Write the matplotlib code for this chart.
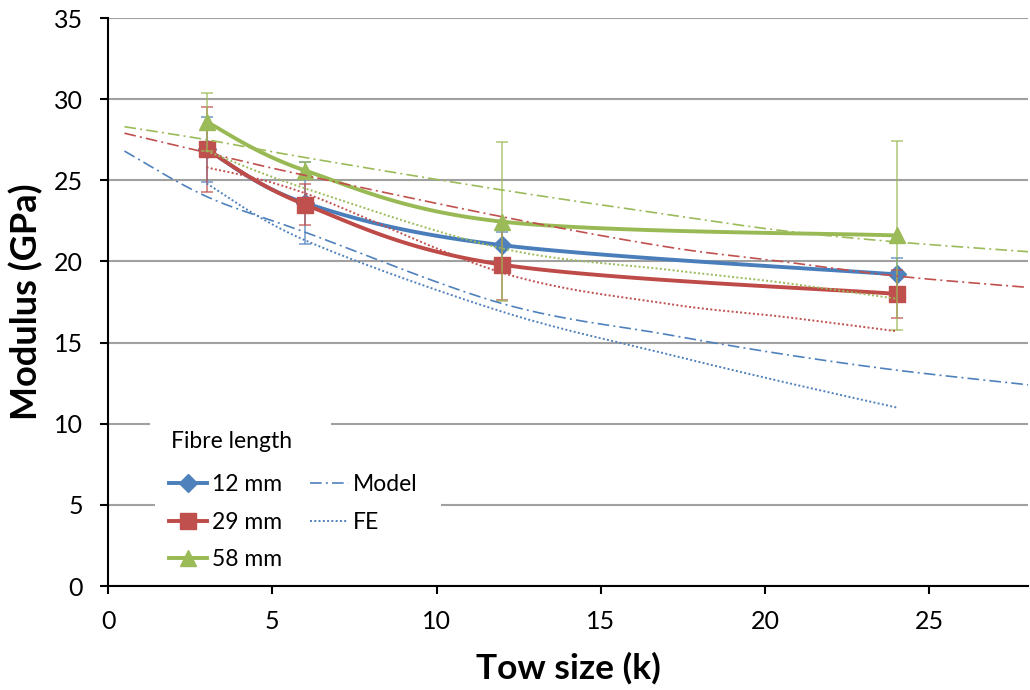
import numpy as np
import matplotlib
matplotlib.use('Agg')
import matplotlib.pyplot as plt
from matplotlib.patches import Rectangle
from matplotlib.lines import Line2D

# ---------------- data ----------------
tow_sizes = [3, 6, 12, 24]
mod_12mm = [26.9, 23.6, 21.0, 19.2]
err_12mm = [2.0, 2.5, 0.8, 1.0]
mod_29mm = [26.9, 23.5, 19.8, 18.0]
err_29mm = [2.6, 1.25, 2.2, 1.5]
mod_58mm = [28.6, 25.6, 22.45, 21.6]
err_58mm = [1.8, 0.5, 4.9, 5.85]

model_x = [0.5, 3, 6, 12, 17, 20.5, 24, 28]
model_12mm = [26.8, 24.0, 21.8, 17.4, 15.5, 14.3, 13.3, 12.4]
model_29mm = [27.9, 26.7, 25.3, 22.75, 20.9, 20.0, 19.1, 18.4]
model_58mm = [28.3, 27.5, 26.4, 24.4, 22.9, 21.9, 21.2, 20.6]

fe_x = [3, 6, 12, 17, 20.5, 24]
fe_12mm = [24.8, 21.3, 16.9, 14.3, 12.6, 11.0]
fe_29mm = [25.8, 24.2, 19.3, 17.4, 16.6, 15.7]
fe_58mm = [26.8, 24.5, 20.8, 19.5, 18.7, 17.7]

series_labels = ['12 mm', '29 mm', '58 mm']
legend_title = 'Fibre length'
x_ticks = [0, 5, 10, 15, 20, 25]
y_ticks = [0, 5, 10, 15, 20, 25, 30, 35]

# ---------------- style ----------------
plt.rcParams['font.family'] = ['Lato', 'DejaVu Sans']
line_cols = ['#4A7EBB', '#BE4B48', '#98B954']
fill_cols = ['#4F81BD', '#C0504D', '#9BBB59']
markers = ['D', 's', '^']
msizes = [9, 11, 12]


def smooth(x, y, n=40):
    P = np.column_stack([x, y]).astype(float)
    ext = np.vstack([P[0], P, P[-1]])
    out = []
    t = np.linspace(0, 1, n)[:, None]
    for i in range(len(P) - 1):
        p0, p1, p2, p3 = ext[i], ext[i + 1], ext[i + 2], ext[i + 3]
        c1 = p1 + (p2 - p0) / 6.0
        c2 = p2 - (p3 - p1) / 6.0
        seg = (1 - t) ** 3 * p1 + 3 * (1 - t) ** 2 * t * c1 + 3 * (1 - t) * t ** 2 * c2 + t ** 3 * p2
        out.append(seg if i == 0 else seg[1:])
    S = np.vstack(out)
    return S[:, 0], S[:, 1]


fig = plt.figure(figsize=(10.3, 6.9), dpi=100)
ax = fig.add_axes([108 / 1030, 1 - 586 / 690, 920 / 1030, 568 / 690])

ax.set_xlim(0, 28)
ax.set_ylim(0, 35)
ax.set_xticks(x_ticks)
ax.set_yticks(y_ticks)
ax.yaxis.grid(True, color='#A0A0A0', lw=1.5)
ax.set_axisbelow(True)
for s in ['top', 'right']:
    ax.spines[s].set_visible(False)
for s in ['left', 'bottom']:
    ax.spines[s].set_linewidth(1.5)
    ax.spines[s].set_color('black')
ax.tick_params(axis='both', direction='out', length=6, width=1.5, labelsize=18)
ax.tick_params(axis='y', pad=12)
ax.tick_params(axis='x', pad=11)

# experimental series
data = [(mod_12mm, err_12mm), (mod_29mm, err_29mm), (mod_58mm, err_58mm)]
for i, (ys, es) in enumerate(data):
    z = 3 + i
    ax.errorbar(tow_sizes, ys, yerr=es, fmt='none', ecolor=fill_cols[i], elinewidth=1.2,
                capsize=4, capthick=1.2, alpha=0.75, zorder=z)
    sx, sy = smooth(tow_sizes, ys)
    ax.plot(sx, sy, color=line_cols[i], lw=2.8, zorder=z, solid_capstyle='round')
    ax.plot(tow_sizes, ys, ls='none', marker=markers[i], ms=msizes[i], color=fill_cols[i],
            markeredgecolor=fill_cols[i], zorder=z + 0.1)

# model & FE
for i, ys in enumerate([model_12mm, model_29mm, model_58mm]):
    sx, sy = smooth(model_x, ys)
    ax.plot(sx, sy, color=fill_cols[i], lw=1.2, dashes=(7, 2.5, 1.2, 2.5), zorder=7)
for i, ys in enumerate([fe_12mm, fe_29mm, fe_58mm]):
    sx, sy = smooth(fe_x, ys)
    ax.plot(sx, sy, color=fill_cols[i], lw=1.4, dashes=(1.0, 1.2), zorder=7)

ax.set_xlabel('Tow size (k)', fontsize=25.5, fontweight='bold', labelpad=14)
ax.set_ylabel('Modulus (GPa)', fontsize=26, fontweight='bold', labelpad=8)

# legend
handles = []
for i in range(3):
    handles.append(Line2D([], [], color=line_cols[i], lw=2.8, marker=markers[i], ms=msizes[i],
                          markerfacecolor=fill_cols[i], markeredgecolor=fill_cols[i]))
handles.append(Line2D([], [], color=fill_cols[0], lw=1.2, dashes=(7, 2.5, 1.2, 2.5)))
handles.append(Line2D([], [], color=fill_cols[0], lw=1.4, dashes=(1.0, 1.2)))
labels = series_labels + ['Model', 'FE']

fx = lambda px: (px - 108) / 920
fy = lambda py: (586 - py) / 568
leg = ax.legend(handles, labels, ncol=2, loc='upper left', bbox_to_anchor=(fx(160), fy(465)),
                borderaxespad=0, frameon=True, fancybox=False, fontsize=16.5,
                handlelength=1.65, handletextpad=0.2, columnspacing=1.25, labelspacing=0.72,
                borderpad=0.4)
leg.get_frame().set_facecolor('white')
leg.get_frame().set_edgecolor('none')
leg.get_frame().set_alpha(1)
leg.set_zorder(20)

ax.add_patch(Rectangle((fx(150), fy(462)), fx(331) - fx(150), fy(418) - fy(462), transform=ax.transAxes,
                       facecolor='white', edgecolor='none', zorder=19, clip_on=False))
ax.add_patch(Rectangle((fx(155), fy(580)), fx(441) - fx(155), fy(462) - fy(580), transform=ax.transAxes,
                       facecolor='white', edgecolor='none', zorder=19, clip_on=False))
ax.text(fx(171), fy(441), legend_title, transform=ax.transAxes, fontsize=16.5, ha='left', va='center',
        zorder=21)

fig.savefig('out.png', dpi=100)
